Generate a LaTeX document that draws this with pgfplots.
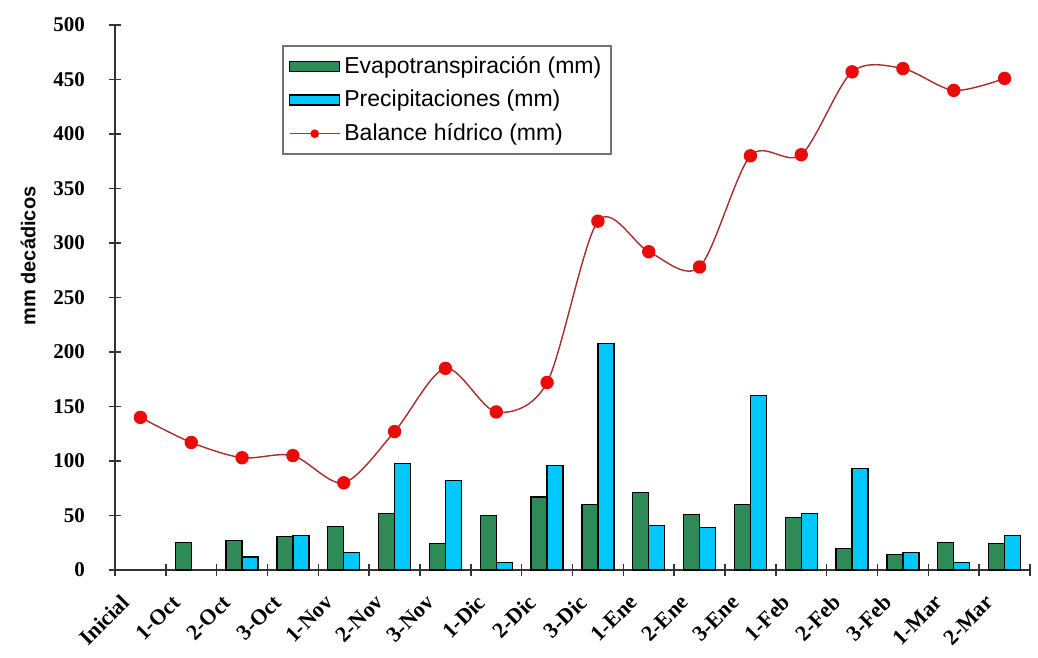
\documentclass[border=0pt]{standalone}
\usepackage{pgfplots}
\pgfplotsset{compat=1.18}
\usepackage{fontspec}
\setmainfont{Liberation Serif}
\newfontfamily\arial{Liberation Sans}

\definecolor{evap}{RGB}{46,139,87}
\definecolor{prec}{RGB}{0,200,250}
\definecolor{balline}{RGB}{165,45,45}
\definecolor{balmark}{RGB}{235,10,10}

\pgfplotsset{
    barleg/.style={legend image code/.code={\draw[##1] (0pt,-2.5pt) rectangle (25pt,2.5pt);}},
    lineleg/.style={legend image code/.code={\draw[##1, mark size=1.8pt, mark repeat=2, mark phase=2] plot coordinates {(0pt,0pt) (12.5pt,0pt) (25pt,0pt)};}},
}

\begin{document}
\begin{tikzpicture}
\begin{axis}[
    at={(0,0)}, anchor=south west,
    scale only axis,
    width=457.5pt, height=272.5pt,
    xmin=-0.5, xmax=17.5,
    ymin=0, ymax=500,
    axis x line=bottom, axis y line=left,
    axis line style={-, line width=0.8pt, black!80},
    ytick={0,50,...,500},
    xtick={0,...,17},
    xticklabels={Inicial,1-Oct,2-Oct,3-Oct,1-Nov,2-Nov,3-Nov,1-Dic,2-Dic,3-Dic,1-Ene,2-Ene,3-Ene,1-Feb,2-Feb,3-Feb,1-Mar,2-Mar},
    major x tick style={draw=none},
    minor xtick={-0.5,0.5,...,17.5},
    tick align=center,
    major tick length=6pt, minor tick length=6pt,
    tick style={line width=0.8pt, black!80},
    /pgf/number format/assume math mode=true,
    yticklabel style={font=\fontsize{10.5}{12}\selectfont\bfseries, xshift=-8.5pt},
    xticklabel style={font=\fontsize{11}{12}\selectfont\bfseries, xshift=-5pt, yshift=-9pt, rotate=45, anchor=east},
    ylabel={mm decádicos},
    ylabel style={font=\arial\fontsize{10}{12}\selectfont\bfseries, at={(axis description cs:-0.095,0.576)}, anchor=center, rotate=0},
    clip=false,
    legend style={at={(0.1825,0.963)}, anchor=north west, draw=black!55, line width=1pt,
        font=\arial\fontsize{11.5}{13}\selectfont, inner xsep=3pt, inner ysep=3pt,
        row sep=3pt, cells={anchor=west}},
    legend cell align=left,
]
\addplot[ybar, bar width=8pt, bar shift=-4pt, fill=evap, draw=black, line width=0.6pt, barleg]
coordinates {
    (1,25) (2,27) (3,31) (4,40) (5,52) (6,24) (7,50) (8,67) (9,60)
    (10,71) (11,51) (12,60) (13,48) (14,20) (15,14) (16,25) (17,24)
};
\addlegendentry{Evapotranspiración (mm)}
\addplot[ybar, bar width=8pt, bar shift=4pt, fill=prec, draw=black, line width=0.6pt, barleg]
coordinates {
    (2,12) (3,32) (4,16) (5,98) (6,82) (7,7) (8,96) (9,208)
    (10,41) (11,39) (12,160) (13,52) (14,93) (15,16) (16,7) (17,32)
};
\addlegendentry{Precipitaciones (mm)}
\addplot[smooth, color=balline, line width=0.7pt, mark=*, mark size=3pt,
    mark options={fill=balmark, draw=balmark}, lineleg]
coordinates {
    (0,140) (1,117) (2,103) (3,105) (4,80) (5,127) (6,185) (7,145) (8,172)
    (9,320) (10,292) (11,278) (12,380) (13,381) (14,457) (15,460) (16,440) (17,451)
};
\addlegendentry{Balance hídrico (mm)}
\end{axis}
\pgfresetboundingbox
\path (-57.5pt,-44pt) rectangle (461.5pt,285pt);
\end{tikzpicture}
\end{document}
